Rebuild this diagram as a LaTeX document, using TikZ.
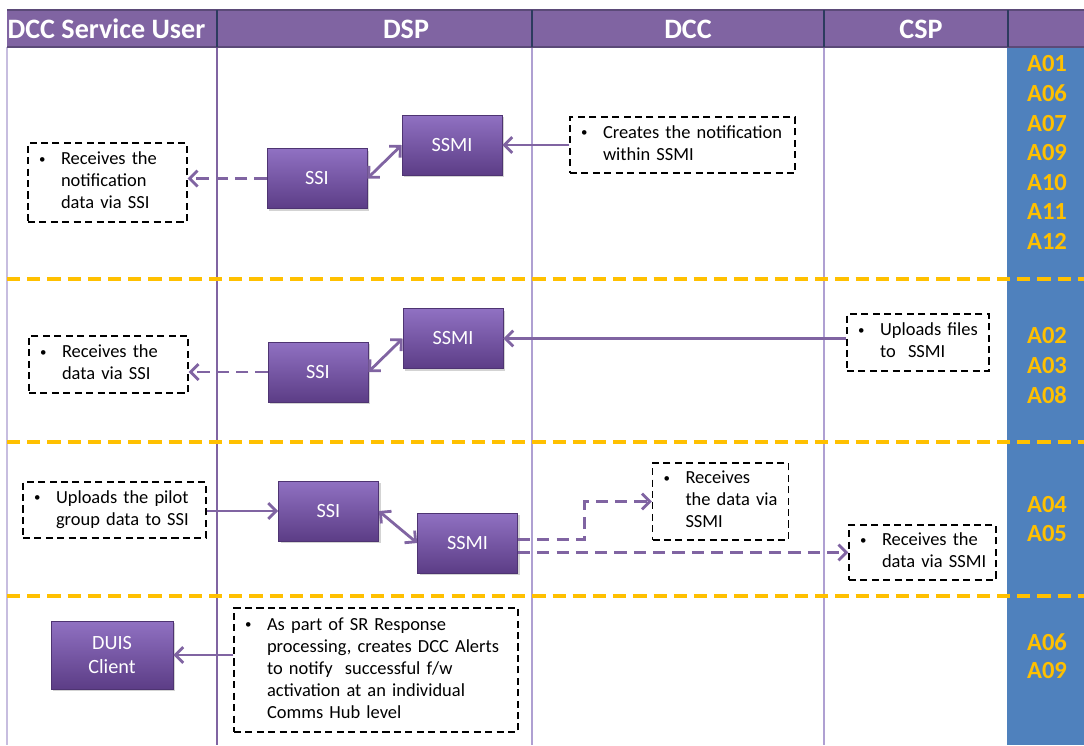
\documentclass[tikz,border=0pt]{standalone}
\usepackage{fontspec}
\setmainfont{Carlito}
\usepackage{xcolor}
\usepackage{graphicx}
\usepackage{tikz}
\usetikzlibrary{arrows.meta, positioning, calc, shadows}

\definecolor{hdrpurple}{HTML}{8064A2}
\definecolor{hdrline}{HTML}{5B4A78}
\definecolor{hdrdiv}{HTML}{2C3B5E}
\definecolor{boxtop}{HTML}{9071C2}
\definecolor{boxbot}{HTML}{5C3D86}
\definecolor{flowpurple}{HTML}{8064A2}
\definecolor{lanelight}{HTML}{AFA0D2}
\definecolor{codeblue}{HTML}{4F81BD}
\definecolor{codegold}{HTML}{FFC000}

\newcommand{\bul}{\raisebox{0.2ex}{\scalebox{0.7}{\textbullet}}}
\newcommand{\blist}[1]{\noindent\begin{tabular}{@{}p{0.44cm}@{}l@{}}#1\end{tabular}}

\tikzset{
    proc/.style={
        rectangle,
        draw=boxbot!85!black,
        top color=boxtop,
        bottom color=boxbot,
        text=white,
        font=\fontsize{11.5}{14}\selectfont,
        minimum width=2cm,
        minimum height=1.2cm,
        align=center,
        drop shadow={shadow xshift=1.2pt, shadow yshift=-1.2pt, opacity=.35},
    },
    note/.style 2 args={
        rectangle,
        draw=black,
        line width=0.8pt,
        dash pattern=on 4pt off 2.5pt,
        font=\fontsize{10.5}{12.5}\selectfont,
        align=left,
        inner xsep=0.22cm,
        inner ysep=0pt,
        text width=#1,
        minimum height=#2,
    },
    flow/.style={->, draw=flowpurple, line width=1.6pt},
    bflow/.style={flow, <->},
    dflow/.style={flow, dash pattern=on 7pt off 4pt},
    hdr/.style={text=white, font=\bfseries\fontsize{16}{18}\selectfont, inner sep=0pt},
    acode/.style={text=codegold, font=\bfseries\fontsize{14}{16}\selectfont, inner sep=0pt},
    zonesep/.style={draw=codegold, line width=2.3pt, dash pattern=on 7.5pt off 4pt},
    lane/.style={draw=lanelight, line width=0.6pt},
}

\begin{document}
\begin{tikzpicture}[x=0.02cm, y=-0.02cm, >={Straight Barb[length=4.5pt,width=9pt]}]
    \useasboundingbox (0,0) rectangle (1084,745);

    % lanes and code column
    \fill[codeblue] (1007,47) rectangle (1084,745);
    \draw[lane, draw=lanelight!70, line width=1.5pt] (7,47) -- (7,745);
    \draw[lane, draw=hdrpurple, line width=0.8pt] (217,47) -- (217,745);
    \draw[lane] (532,47) -- (532,745);
    \draw[lane] (824,47) -- (824,745);
    \foreach \yy in {279,442,596}
        \draw[zonesep] (7,\yy) -- (1084,\yy);

    % header
    \fill[hdrpurple] (7,10) rectangle (1084,47);
    \draw[hdrline, line width=1.2pt] (7,10) -- (1084,10) (7,47) -- (1084,47);
    \foreach \xx in {217,532,824,1008}
        \draw[hdrdiv, line width=0.8pt] (\xx,10) -- (\xx,47);
    \node[hdr, anchor=base] (hUser) at (106.5,38) {DCC Service User};
    \node[hdr, anchor=base] (hDSP) at (406,38) {DSP};
    \node[hdr, anchor=base] (hDCC) at (688,38) {DCC};
    \node[hdr, anchor=base] (hCSP) at (921,38) {CSP};

    \foreach \lbl/\yy [count=\i] in {A01/64, A06/93.6, A07/123.2, A09/152.8, A10/182.4, A11/212, A12/241.6,
                                     A02/336, A03/365.6, A08/395.2, A04/505, A05/534, A06/642, A09/671}
        \node[acode] (c\i) at (1047,\yy) {\lbl};

    % zone 1
    \node[proc] (ssmi1) at (452,145) {SSMI};
    \node[proc] (ssi1) at (317,178.5) {SSI};
    \node[note={4.06cm}{1.12cm}] (n1b) at (682.5,145)
        {\blist{\bul & Creates the notification\\ & within SSMI}};
    \node[note={2.74cm}{1.58cm}] (n1a) at (107.5,182.5)
        {\blist{\bul & Receives the\\ & notification\\ & data via SSI}};

    \draw[flow] (n1b.west) -- (ssmi1.east);
    \draw[bflow] (ssi1.east) -- (ssmi1.west);
    \draw[dflow] (ssi1.west) -- (ssi1.west -| n1a.east);

    % zone 2
    \node[proc] (ssmi2) at (453,338.5) {SSMI};
    \node[proc] (ssi2) at (318,372) {SSI};
    \node[note={2.4cm}{1.14cm}] (n2b) at (918,342.5)
        {\blist{\bul & Uploads files\\ & to\ \ SSMI}};
    \node[note={2.74cm}{1.14cm}] (n2a) at (108.5,364.5)
        {\blist{\bul & Receives the\\ & data via SSI}};

    \draw[flow] (ssmi2.east -| n2b.west) -- (ssmi2.east);
    \draw[bflow] (ssi2.east) -- (ssmi2.west);
    \draw[dflow] (ssi2.west) -- (ssi2.west -| n2a.east);

    % zone 3
    \node[note={3.22cm}{1.12cm}] (n3a) at (114.5,510)
        {\blist{\bul & Uploads the pilot\\ & group data to SSI}};
    \node[proc] (ssi3) at (328.5,511) {SSI};
    \node[proc] (ssmi3) at (467.5,543) {SSMI};
    \node[note={2.28cm}{1.54cm}] (n3b) at (720.5,501.5)
        {\blist{\bul & Receives\\ & the data via\\ & SSMI}};
    \node[note={2.5cm}{1.1cm}] (n3c) at (922.5,552.5)
        {\blist{\bul & Receives the\\ & data via SSMI}};

    \draw[flow] (ssi3.west -| n3a.east) -- (ssi3.west);
    \draw[bflow] (ssi3.east) -- (ssmi3.west);
    \draw[dflow] ([yshift=2pt]ssmi3.east) -- ++(67,0) |- (n3b.west);
    \draw[dflow] (n3c.west -| ssmi3.east) -- (n3c.west);

    % zone 4
    \node[proc, minimum width=2.44cm, minimum height=1.36cm] (duis) at (112,655) {DUIS\\Client};
    \node[note={5.24cm}{2.48cm}] (n4) at (376,670)
        {\blist{\bul & As part of SR Response\\ & processing, creates DCC Alerts\\
         & to notify\ \ successful f/w\\ & activation at an individual\\ & Comms Hub level}};

    \draw[flow] (duis.east -| n4.west) -- (duis.east);
\end{tikzpicture}
\end{document}
